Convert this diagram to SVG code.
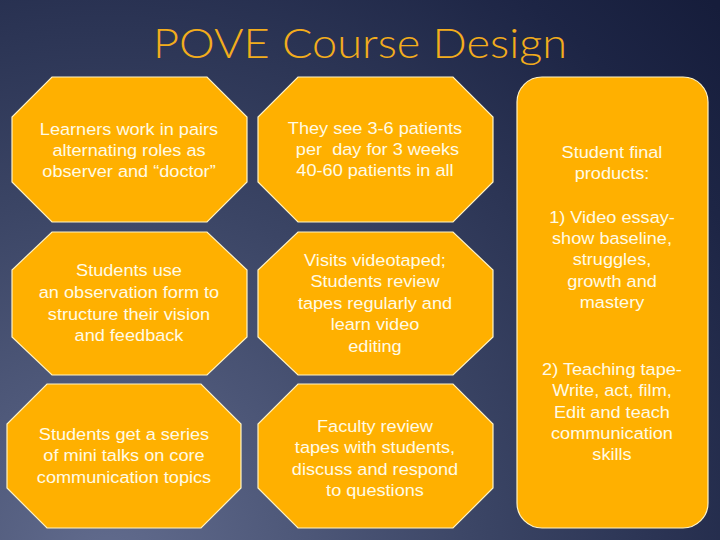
<svg xmlns="http://www.w3.org/2000/svg" width="720" height="540" viewBox="0 0 720 540">
<defs>
<radialGradient id="bg" cx="0.15" cy="1.05" r="1.15" gradientUnits="objectBoundingBox" gradientTransform="translate(0.15,1.05) scale(1,1.333) translate(-0.15,-1.05)">
<stop offset="0" stop-color="#626c8e"/>
<stop offset="0.45" stop-color="#3b4565"/>
<stop offset="0.85" stop-color="#1d2545"/>
<stop offset="1" stop-color="#161d3b"/>
</radialGradient>
<style>
.oct{fill:#ffb000;stroke:#fff3c4;stroke-width:1.2}
.t{font-family:"Liberation Sans",Arial,sans-serif;font-size:16.5px;fill:#fffbe6;text-anchor:middle;white-space:pre}
.title{font-family:Lato,"Liberation Sans",sans-serif;font-weight:300;font-size:41px;fill:#f3ad1c;text-anchor:middle}
</style>
</defs>
<rect width="720" height="540" fill="url(#bg)"/>
<text class="title" x="360" y="58" textLength="414" lengthAdjust="spacingAndGlyphs">POVE Course Design</text>

<g id="n1">
<polygon class="oct" points="52,77 207,77 247,117 247,182 207,222 52,222 12,182 12,117"/>
<g transform="matrix(1.1 0 0 1 -12.9 0)">
<text class="t" x="129" y="135">Learners work in pairs</text>
<text class="t" x="129" y="156">alternating roles as</text>
<text class="t" x="129" y="177">observer and “doctor”</text>
</g>
</g>
<g id="n2">
<polygon class="oct" points="298,77 453,77 493,117 493,182 453,222 298,222 258,182 258,117"/>
<g transform="matrix(1.1 0 0 1 -37.5 0)">
<text class="t" x="375" y="134">They see 3-6 patients</text>
<text class="t" x="375" y="155"> per  day for 3 weeks</text>
<text class="t" x="375" y="176">40-60 patients in all</text>
</g>
</g>
<g id="n3">
<polygon class="oct" points="52,232 207,232 247,270 247,337 207,375 52,375 12,337 12,270"/>
<g transform="matrix(1.1 0 0 1 -12.9 0)">
<text class="t" x="129" y="276">Students use</text>
<text class="t" x="129" y="298">an observation form to</text>
<text class="t" x="129" y="320">structure their vision</text>
<text class="t" x="129" y="341">and feedback</text>
</g>
</g>
<g id="n4">
<polygon class="oct" points="298,232 453,232 493,270 493,337 453,375 298,375 258,337 258,270"/>
<g transform="matrix(1.1 0 0 1 -37.5 0)">
<text class="t" x="375" y="266">Visits videotaped;</text>
<text class="t" x="375" y="287">Students review</text>
<text class="t" x="375" y="309">tapes regularly and</text>
<text class="t" x="375" y="330">learn video</text>
<text class="t" x="375" y="352">editing</text>
</g>
</g>
<g id="n5">
<polygon class="oct" points="47,384 201,384 241,424 241,488 201,528 47,528 7,488 7,424"/>
<g transform="matrix(1.1 0 0 1 -12.4 0)">
<text class="t" x="124" y="440">Students get a series</text>
<text class="t" x="124" y="461">of mini talks on core</text>
<text class="t" x="124" y="483">communication topics</text>
</g>
</g>
<g id="n6">
<polygon class="oct" points="298,384 453,384 493,424 493,488 453,528 298,528 258,488 258,424"/>
<g transform="matrix(1.1 0 0 1 -37.5 0)">
<text class="t" x="375" y="432">Faculty review</text>
<text class="t" x="375" y="453">tapes with students,</text>
<text class="t" x="375" y="475">discuss and respond</text>
<text class="t" x="375" y="496">to questions</text>
</g>
</g>
<g id="n7">
<rect class="oct" x="517" y="77" width="191" height="451" rx="25" ry="25"/>
<g transform="matrix(1.1 0 0 1 -61.2 0)">
<text class="t" x="612" y="158">Student final</text>
<text class="t" x="612" y="179">products:</text>
<text class="t" x="612" y="223">1) Video essay-</text>
<text class="t" x="612" y="244">show baseline,</text>
<text class="t" x="612" y="265">struggles,</text>
<text class="t" x="612" y="287">growth and</text>
<text class="t" x="612" y="308">mastery</text>
<text class="t" x="612" y="375">2) Teaching tape-</text>
<text class="t" x="612" y="396">Write, act, film,</text>
<text class="t" x="612" y="418">Edit and teach</text>
<text class="t" x="612" y="439">communication</text>
<text class="t" x="612" y="460">skills</text>
</g>
</g>
<g id="connectors"/>
</svg>
